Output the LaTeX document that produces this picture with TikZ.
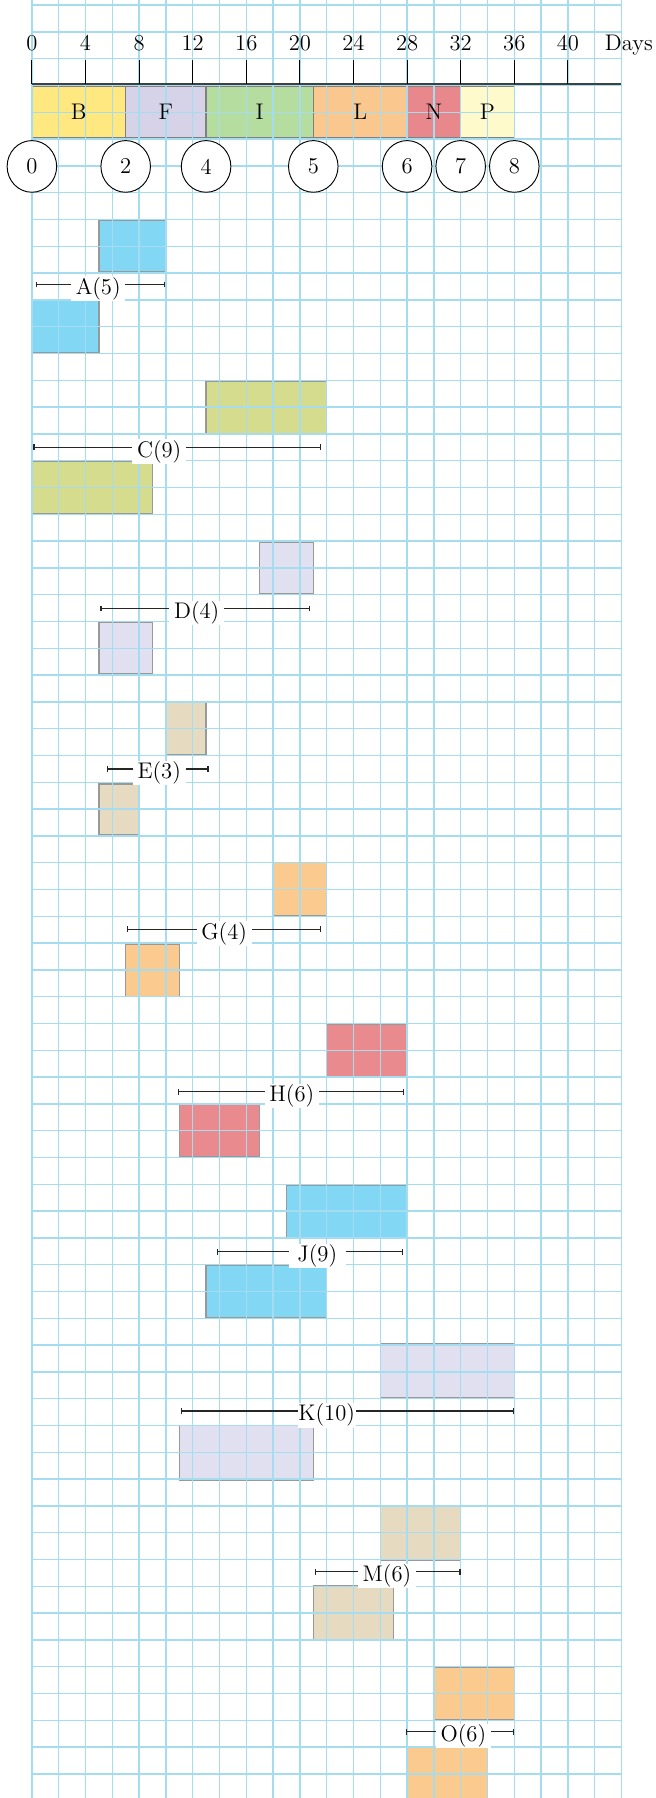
\documentclass[tikz,border=0pt]{standalone}
\usepackage{tikz}
\usetikzlibrary{arrows.meta}

\definecolor{gridblue}{RGB}{166,220,240}
\definecolor{barB}{RGB}{255,232,128}
\definecolor{barF}{RGB}{214,211,232}
\definecolor{barI}{RGB}{182,221,160}
\definecolor{barL}{RGB}{250,200,142}
\definecolor{barN}{RGB}{232,135,140}
\definecolor{barP}{RGB}{255,250,204}
\definecolor{actA}{RGB}{130,216,244}
\definecolor{actC}{RGB}{214,220,142}
\definecolor{actD}{RGB}{224,224,240}
\definecolor{actE}{RGB}{230,218,192}
\definecolor{actG}{RGB}{250,202,142}
\definecolor{actH}{RGB}{232,138,142}

\tikzset{
  gridline/.style={gridblue, line width=0.65pt},
  bar/.style={draw=black!50, line width=0.7pt},
  actbox/.style={draw=black!40, line width=0.7pt},
  axisline/.style={black!75, line width=1pt},
  tickline/.style={black, line width=0.6pt},
  event/.style={draw=black, fill=white, line width=0.5pt},
  durline/.style={black!85, line width=0.7pt, {Bar[width=3pt]}-{Bar[width=3pt]}},
  durlabel/.style={fill=white, inner xsep=2.5pt, inner ysep=0.5pt}
}

\begin{document}
\begin{tikzpicture}[x=2.5mm, y=-5mm, font=\large]
  \useasboundingbox (-2.38,-0.19) rectangle (46.57,66.9);

  \filldraw[bar, fill=barB] (0,3.02) rectangle (7,4.94);
  \filldraw[bar, fill=barF] (7,3.02) rectangle (13,4.94);
  \filldraw[bar, fill=barI] (13,3.02) rectangle (21,4.94);
  \filldraw[bar, fill=barL] (21,3.02) rectangle (28,4.94);
  \filldraw[bar, fill=barN] (28,3.02) rectangle (32,4.94);
  \filldraw[bar, fill=barP] (32,3.02) rectangle (36,4.94);

  \filldraw[actbox, fill=actA] (5,8.02) rectangle (10,9.94);
  \filldraw[actbox, fill=actA] (0,11.02) rectangle (5,12.96);

  \filldraw[actbox, fill=actC] (13,14.04) rectangle (22,16);
  \filldraw[actbox, fill=actC] (0,17.04) rectangle (9,18.96);

  \filldraw[actbox, fill=actD] (17,20.04) rectangle (21,21.98);
  \filldraw[actbox, fill=actD] (5,23.04) rectangle (9,24.96);

  \filldraw[actbox, fill=actE] (10,26.02) rectangle (13,27.96);
  \filldraw[actbox, fill=actE] (5,29.06) rectangle (8,30.96);

  \filldraw[actbox, fill=actG] (18,32) rectangle (22,33.98);
  \filldraw[actbox, fill=actG] (7,35.04) rectangle (11,36.98);

  \filldraw[actbox, fill=actH] (22,38.04) rectangle (28,39.98);
  \filldraw[actbox, fill=actH] (11,40.98) rectangle (17,42.98);

  \filldraw[actbox, fill=actA] (19,44.04) rectangle (28,46.02);
  \filldraw[actbox, fill=actA] (13,47.04) rectangle (22,48.98);

  \filldraw[actbox, fill=actD] (26,49.96) rectangle (36,51.96);
  \filldraw[actbox, fill=actD] (11,53) rectangle (21,55.04);

  \filldraw[actbox, fill=actE] (26,56.02) rectangle (32,58.02);
  \filldraw[actbox, fill=actE] (21,58.98) rectangle (27,60.98);

  \filldraw[actbox, fill=actG] (30,62.04) rectangle (36,63.96);
  \filldraw[actbox, fill=actG] (28,65.02) rectangle (34,67.2);

  \foreach \d in {0,2,...,44}
    \draw[gridline] (\d,-0.19) -- (\d,66.9);
  \foreach \r in {0,...,66}
    \draw[gridline] (0,\r) -- (44,\r);

  \draw[axisline] (0,2.96) -- (44,2.96);
  \foreach \d in {0,4,...,40} {
    \draw[tickline] (\d,2.05) -- (\d,2.96);
    \node[anchor=base] (t\d) at (\d,1.68) {\d};
  }
  \node[anchor=base] (days) at (44.55,1.68) {Days};

  \node (B) at (3.5,3.98) {B};
  \node (F) at (10,3.98) {F};
  \node (I) at (17,3.98) {I};
  \node (L) at (24.5,3.98) {L};
  \node (N) at (30,3.98) {N};
  \node (P) at (34,3.98) {P};

  \filldraw[event] (0,6.02) ellipse (4.62mm and 4.82mm) node (e0) {0};
  \filldraw[event] (7,6.02) ellipse (4.62mm and 4.82mm) node (e2) {2};
  \filldraw[event] (13,6.02) ellipse (4.62mm and 4.82mm) node (e4) {4};
  \filldraw[event] (21,6.02) ellipse (4.62mm and 4.82mm) node (e5) {5};
  \filldraw[event] (28,6.02) ellipse (4.62mm and 4.82mm) node (e6) {6};
  \filldraw[event] (32,6.02) ellipse (4.62mm and 4.82mm) node (e7) {7};
  \filldraw[event] (36,6.02) ellipse (4.62mm and 4.82mm) node (e8) {8};

  \coordinate (A0) at (0.3,10.42); \coordinate (A1) at (9.95,10.42);
  \draw[durline] (A0) -- (A1);
  \node[durlabel] (Alab) at (4.95,10.58) {A(5)};

  \coordinate (C0) at (0.1,16.5); \coordinate (C1) at (21.6,16.5);
  \draw[durline] (C0) -- (C1);
  \node[durlabel] (Clab) at (9.5,16.66) {C(9)};

  \coordinate (D0) at (5.1,22.52); \coordinate (D1) at (20.75,22.52);
  \draw[durline] (D0) -- (D1);
  \node[durlabel] (Dlab) at (12.3,22.68) {D(4)};

  \coordinate (E0) at (5.6,28.5); \coordinate (E1) at (13.2,28.5);
  \draw[durline] (E0) -- (E1);
  \node[durlabel] (Elab) at (9.5,28.66) {E(3)};

  \coordinate (G0) at (7.1,34.48); \coordinate (G1) at (21.6,34.48);
  \draw[durline] (G0) -- (G1);
  \node[durlabel] (Glab) at (14.35,34.64) {G(4)};

  \coordinate (H0) at (10.9,40.55); \coordinate (H1) at (27.8,40.55);
  \draw[durline] (H0) -- (H1);
  \node[durlabel] (Hlab) at (19.4,40.71) {H(6)};

  \coordinate (J0) at (13.8,46.52); \coordinate (J1) at (27.7,46.52);
  \draw[durline] (J0) -- (J1);
  \node[durlabel, inner xsep=4.5pt] (Jlab) at (21.3,46.68) {J(9)};

  \coordinate (K0) at (11.1,52.46); \coordinate (K1) at (36,52.46);
  \draw[durline] (K0) -- (K1);
  \node[durlabel, inner xsep=0.3pt] (Klab) at (22,52.62) {K(10)};

  \coordinate (M0) at (21.1,58.46); \coordinate (M1) at (32,58.46);
  \draw[durline] (M0) -- (M1);
  \node[durlabel] (Mlab) at (26.5,58.62) {M(6)};

  \coordinate (O0) at (27.9,64.43); \coordinate (O1) at (36,64.43);
  \draw[durline] (O0) -- (O1);
  \node[durlabel] (Olab) at (32.2,64.59) {O(6)};
\end{tikzpicture}
\end{document}
